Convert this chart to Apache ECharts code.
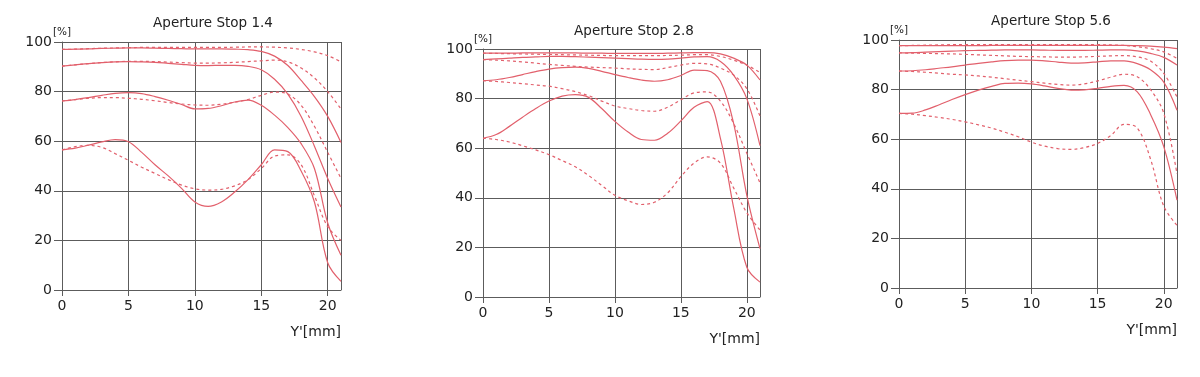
<!DOCTYPE html>
<html>
<head>
<meta charset="utf-8">
<script src="https://cdn.jsdelivr.net/npm/echarts@6/dist/echarts.min.js"></script>
<style>
  html, body { margin: 0; padding: 0; background: #fff; }
  #main { width: 1200px; height: 377px; }
</style>
</head>
<body>
<div id="main"></div>
<script>
// image height Y' in mm, one sample per mm
var xs = [0, 1, 2, 3, 4, 5, 6, 7, 8, 9, 10, 11, 12, 13, 14, 15, 16, 17, 18, 19, 20, 21];
var titles = ['Aperture Stop 1.4', 'Aperture Stop 2.8', 'Aperture Stop 5.6'];
var yTicks = [0, 20, 40, 60, 80, 100];

// f/1.4  (s = solid, d = dashed; 4 pairs from top to bottom)
var f14_1s = [97, 97.1, 97.2, 97.4, 97.5, 97.6, 97.6, 97.5, 97.4, 97.3, 97.2, 97.2, 97.2, 97.1, 96.9, 96.2, 94.3, 90.5, 84.5, 78, 70, 59.5];
var f14_1d = [97, 97.1, 97.3, 97.5, 97.6, 97.7, 97.8, 97.8, 97.8, 97.8, 97.8, 97.8, 97.8, 97.9, 98, 98, 97.9, 97.6, 97, 96, 94.5, 92];
var f14_2s = [90.3, 90.8, 91.3, 91.7, 92, 92.1, 92, 91.8, 91.4, 91, 90.6, 90.5, 90.6, 90.6, 90.2, 88.8, 85, 79, 70, 58, 45, 33.5];
var f14_2d = [90.3, 90.8, 91.3, 91.7, 92, 92.2, 92.2, 92.1, 91.9, 91.7, 91.5, 91.5, 91.6, 91.8, 92.1, 92.4, 92.7, 92, 89.5, 85.5, 80, 73];
var f14_3s = [76.2, 76.8, 77.6, 78.5, 79.3, 79.6, 79.2, 78, 76.5, 74.8, 73, 73.2, 74.3, 75.8, 76.6, 74.5, 70.5, 65.5, 59, 49, 27, 14];
var f14_3d = [76.2, 76.8, 77.3, 77.6, 77.6, 77.3, 76.9, 76.3, 75.6, 75, 74.6, 74.5, 74.9, 75.7, 76.8, 78.5, 79.8, 79, 74.5, 66, 55.5, 45];
var f14_4s = [56.5, 57.2, 58.4, 59.7, 60.6, 59.8, 55.5, 50.5, 46, 41, 35.5, 33.7, 35.5, 39.5, 44.5, 50.5, 56.5, 55.8, 48, 35.5, 11, 3.5];
var f14_4d = [56.5, 57.8, 58.3, 57.5, 55, 52.3, 49.5, 47, 44.5, 42.3, 40.8, 40.3, 40.6, 42, 44.5, 49, 54, 54.5, 50.5, 38, 25.5, 20];

// f/2.8
var f28_1s = [98.3, 98.3, 98.3, 98.4, 98.4, 98.4, 98.4, 98.4, 98.3, 98.3, 98.2, 98.2, 98.2, 98.2, 98.3, 98.4, 98.5, 98.5, 98, 96.3, 93.5, 87.5];
var f28_1d = [98.3, 98.2, 98.1, 98, 97.9, 97.8, 97.7, 97.6, 97.5, 97.4, 97.3, 97.3, 97.3, 97.3, 97.4, 97.5, 97.7, 97.7, 97, 95.5, 93.5, 90.5];
var f28_2s = [95.7, 96, 96.3, 96.6, 96.8, 97, 97, 96.9, 96.7, 96.5, 96.3, 96.1, 95.9, 95.8, 95.9, 96.3, 96.8, 96.9, 95, 89.5, 80, 61];
var f28_2d = [95.7, 95.5, 95.2, 94.8, 94.3, 93.8, 93.4, 93, 92.7, 92.5, 92.3, 92, 91.8, 91.7, 92.5, 93.5, 94.2, 94, 92.3, 89.5, 84, 73];
var f28_3s = [87.2, 87.6, 88.5, 89.7, 90.9, 91.9, 92.5, 92.7, 92.2, 91, 89.7, 88.5, 87.5, 87, 87.6, 89.3, 91.5, 91.3, 87, 70, 41, 19.5];
var f28_3d = [87.2, 86.9, 86.5, 86, 85.5, 85, 84, 82.8, 81.2, 79, 77, 76, 75.2, 74.9, 76.5, 79.5, 82.3, 82.7, 79, 70, 58, 46];
var f28_4s = [64, 65.5, 68.8, 72.5, 76, 79, 81, 81.6, 80.5, 76, 70.8, 66.5, 63.5, 63.2, 66, 71, 76.5, 78.8, 64, 36, 12, 6];
var f28_4d = [64, 63.5, 62.5, 61, 59.3, 57.4, 55, 52.5, 49, 45, 41, 38.8, 37.3, 38.2, 42, 48.5, 54, 56.5, 54, 44, 34, 27];

// f/5.6
var f56_1s = [97.7, 97.7, 97.7, 97.7, 97.7, 97.7, 97.7, 97.8, 97.8, 97.8, 97.8, 97.8, 97.8, 97.8, 97.8, 97.8, 97.8, 97.8, 97.7, 97.5, 97.1, 96.5];
var f56_1d = [97.7, 97.8, 97.9, 98, 98.1, 98.1, 98.1, 98.1, 98.1, 98.1, 98.1, 98.1, 98.1, 98.1, 98.1, 98.1, 98, 97.8, 97.3, 96.5, 95.2, 92.6];
var f56_2s = [94.8, 94.9, 95.1, 95.3, 95.5, 95.7, 95.8, 95.9, 96, 96, 96, 95.9, 95.8, 95.8, 95.8, 95.9, 96, 96, 95.6, 94.6, 93, 89.9];
var f56_2d = [94.8, 94.7, 94.6, 94.5, 94.4, 94.2, 94, 93.8, 93.6, 93.4, 93.3, 93.2, 93.1, 93.1, 93.2, 93.4, 93.6, 93.7, 93.2, 91.5, 86.5, 77];
var f56_3s = [87.5, 87.6, 88, 88.6, 89.2, 89.9, 90.6, 91.2, 91.7, 91.9, 91.9, 91.6, 91.1, 90.7, 90.8, 91.2, 91.6, 91.6, 90.5, 88, 83, 71.7];
var f56_3d = [87.5, 87.3, 87, 86.6, 86.2, 85.9, 85.5, 85, 84.4, 83.8, 83.2, 82.6, 82.1, 81.8, 82.3, 83.5, 85, 86.2, 85.2, 80, 70.5, 46];
var f56_4s = [70.4, 70.5, 71.8, 73.8, 76, 78, 79.8, 81.3, 82.5, 82.6, 82.3, 81.5, 80.5, 79.8, 79.9, 80.5, 81.3, 81.7, 79.1, 70, 57, 35.4];
var f56_4d = [70.4, 70.1, 69.5, 68.8, 68, 67, 65.8, 64.5, 62.8, 61, 58.8, 57.2, 56.2, 55.9, 56.6, 58.3, 61.5, 66, 64.5, 52, 33, 25.3];

var panels = [
  [f14_1s, f14_1d, f14_2s, f14_2d, f14_3s, f14_3d, f14_4s, f14_4d],
  [f28_1s, f28_1d, f28_2s, f28_2d, f28_3s, f28_3d, f28_4s, f28_4d],
  [f56_1s, f56_1d, f56_2s, f56_2d, f56_3s, f56_3d, f56_4s, f56_4d]
];

// plot boxes
var boxes = [
  { left: 62, top: 42, width: 279, height: 248 },
  { left: 483, top: 49, width: 277, height: 248 },
  { left: 899, top: 40, width: 278, height: 248 }
];
var titleCenter = [208, 629, 1046];
var titleTop = [11, 19, 9];

var lineColor = '#e2606c';
var gridColor = '#5c5c5c';
var font = '"DejaVu Sans", sans-serif';

function pairs(vals) {
  var out = [];
  for (var i = 0; i < xs.length; i++) {
    out.push([xs[i], vals[i]]);
  }
  return out;
}

var grids = [], xAxes = [], yAxes = [], series = [], titleList = [], graphics = [];

for (var p = 0; p < 3; p++) {
  var b = boxes[p];
  grids.push({ left: b.left, top: b.top, width: b.width, height: b.height, containLabel: false });

  xAxes.push({
    gridIndex: p,
    type: 'value',
    min: 0,
    max: 21,
    interval: 5,
    axisLine: { show: true, lineStyle: { color: gridColor, width: 1 } },
    axisTick: { show: true, length: 6, lineStyle: { color: gridColor } },
    axisLabel: { showMaxLabel: false, margin: 9, fontSize: 14, color: '#222', fontFamily: font },
    splitLine: { show: true, lineStyle: { color: gridColor, width: 1 } }
  });

  yAxes.push({
    gridIndex: p,
    type: 'value',
    min: yTicks[0],
    max: yTicks[yTicks.length - 1],
    interval: 20,
    axisLine: { show: true, lineStyle: { color: gridColor, width: 1 } },
    axisTick: { show: true, length: 8, lineStyle: { color: gridColor } },
    axisLabel: { margin: 10, fontSize: 14, color: '#222', fontFamily: font },
    splitLine: { show: true, lineStyle: { color: gridColor, width: 1 } }
  });

  titleList.push({
    text: titles[p],
    left: titleCenter[p],
    textAlign: 'center',
    top: titleTop[p],
    textStyle: { fontSize: 13.5, fontWeight: 'normal', color: '#222', fontFamily: font }
  });

  // unit labels
  graphics.push({
    type: 'text', left: b.left - 9, top: b.top - 15,
    style: { text: '[%]', fontSize: 10.5, fill: '#222', fontFamily: font }
  });
  graphics.push({
    type: 'text', right: 1200 - (b.left + b.width), top: b.top + b.height + 35,
    style: { text: "Y'[mm]", fontSize: 14, fill: '#222', fontFamily: font }
  });

  var curves = panels[p];
  for (var k = 0; k < curves.length; k++) {
    var dashed = k % 2 === 1;
    series.push({
      type: 'line',
      xAxisIndex: p,
      yAxisIndex: p,
      data: pairs(curves[k]),
      smooth: 0.35,
      symbol: 'none',
      silent: true,
      lineStyle: { color: lineColor, width: 1.2, type: dashed ? [3, 3] : 'solid' },
      z: 3
    });
  }
}

var chart = echarts.init(document.getElementById('main'), null, { renderer: 'canvas' });
chart.setOption({
  backgroundColor: '#fff',
  animation: false,
  title: titleList,
  grid: grids,
  xAxis: xAxes,
  yAxis: yAxes,
  series: series,
  graphic: graphics
});
</script>
</body>
</html>
